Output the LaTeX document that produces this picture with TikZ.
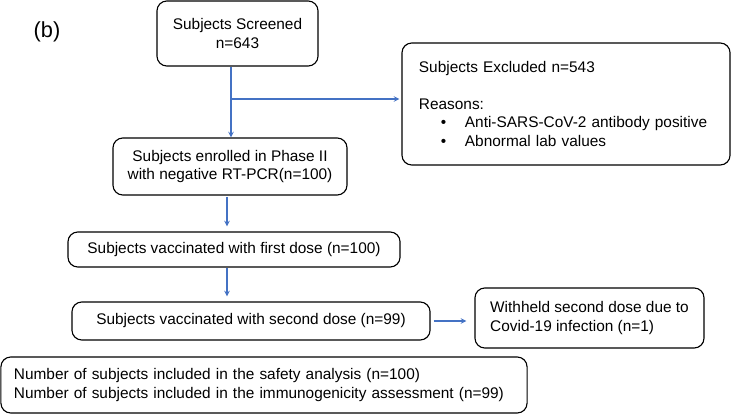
\documentclass[tikz,border=0pt]{standalone}
\usepackage{fontspec}
\setmainfont{Liberation Sans}
\definecolor{flowblue}{RGB}{68,114,196}
\newcommand{\bulletline}[1]{\mbox{\hspace*{15.6pt}\makebox[17.1pt][l]{\textbullet}#1}}

\begin{document}
\begin{tikzpicture}[x=0.025cm, y=-0.025cm, font=\fontsize{10.95}{13}\selectfont, line join=round, >=stealth,
    box/.style={draw, line width=0.8pt, rounded corners=7pt, align=center, inner sep=0pt},
    flow/.style={->, draw=flowblue, line width=0.8pt}]
    \useasboundingbox (0,0) rectangle (731,414);
    \node at (47,32) [font=\fontsize{15.5}{18}\selectfont] (lbl) {(b)};
    \node at (237.5,33.5) [box, minimum width=4.025cm, minimum height=1.625cm] (scr) {Subjects Screened\\n=643};
    \node at (566,104) [box, align=left, inner xsep=0.425cm, text width=7.35cm, minimum height=3.05cm] (exc)
        {Subjects Excluded n=543\\[13.3pt]Reasons:\\\bulletline{Anti-SARS-CoV-2 antibody positive}\\\bulletline{Abnormal lab values}};
    \node at (230,166.5) [box, minimum width=5.85cm, minimum height=1.425cm] (enr) {Subjects enrolled in Phase II\\with negative RT-PCR(n=100)};
    \node at (234,249.5) [box, minimum width=8.3cm, minimum height=0.875cm] (fd) {Subjects vaccinated with first dose (n=100)};
    \node at (251,321) [box, minimum width=8.95cm, minimum height=0.95cm] (sd) {Subjects vaccinated with second dose (n=99)};
    \node at (589.5,318) [box, align=left, minimum width=5.725cm, minimum height=1.5cm] (wh) {Withheld second dose due to\\Covid-19 infection (n=1)};
    \node at (264,385) [box, align=left, inner xsep=0.325cm, text width=12.5cm, minimum height=1.4cm] (bot)
        {Number of subjects included in the safety analysis (n=100)\\Number of subjects included in the immunogenicity assessment (n=99)};
    \coordinate (split) at (231,99);
    \coordinate (spine) at (227,0);
    \draw[flow] (scr.south -| split) -- (enr.north -| split);
    \draw[flow, shorten >=1.4pt] (split) -- (split -| exc.west);
    \draw[flow, shorten <=1pt, shorten >=3.6pt] (enr.south -| spine) -- (fd.north -| spine);
    \draw[flow, shorten >=3.6pt] (fd.south -| spine) -- (sd.north -| spine);
    \draw[flow, shorten <=2.1pt, shorten >=5.7pt] (sd.east) -- (sd.east -| wh.west);
\end{tikzpicture}
\end{document}
